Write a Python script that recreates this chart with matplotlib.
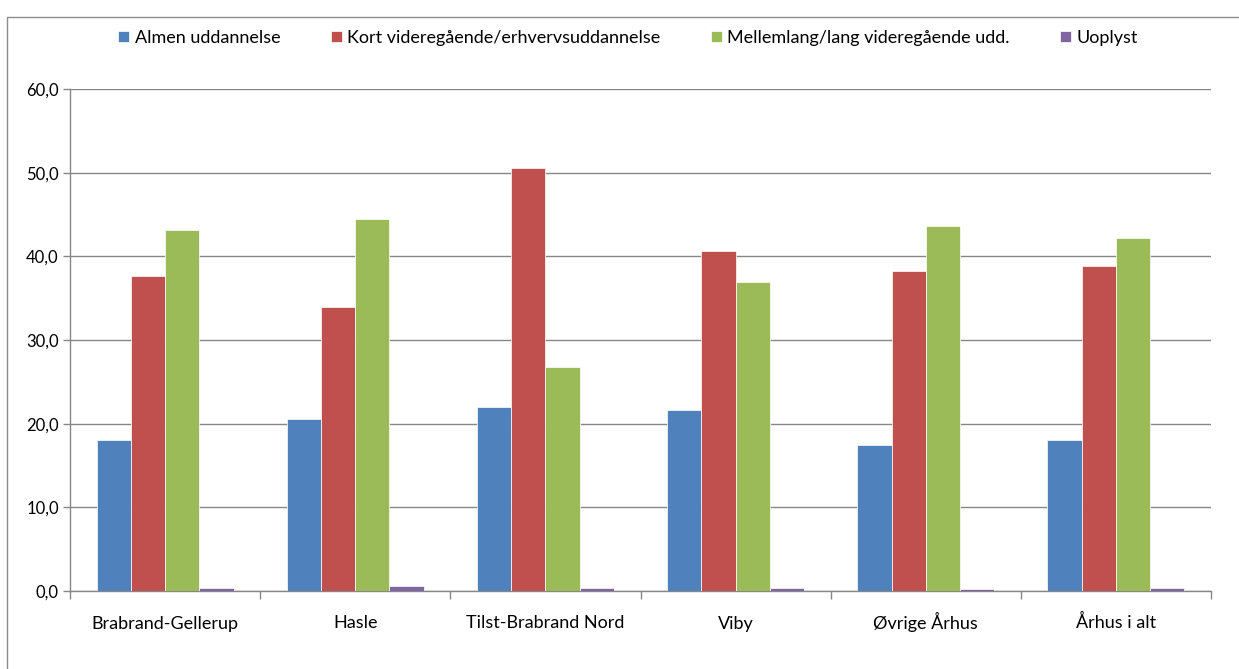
import numpy as np
import matplotlib.pyplot as plt
from matplotlib.patches import Rectangle
from matplotlib.ticker import FuncFormatter
plt.switch_backend('agg')

plt.rcParams['font.family'] = ['Lato', 'DejaVu Sans']

categories = ['Brabrand-Gellerup', 'Hasle', 'Tilst-Brabrand Nord', 'Viby',
              'Øvrige Århus', 'Århus i alt']
series_names = ['Almen uddannelse', 'Kort videregående/erhvervsuddannelse',
                'Mellemlang/lang videregående udd.', 'Uoplyst']
almen = [18.1, 20.6, 22.0, 21.6, 17.4, 18.1]
kort = [37.6, 33.9, 50.5, 40.6, 38.3, 38.8]
mellem = [43.2, 44.5, 26.8, 36.9, 43.6, 42.2]
uoplyst = [0.4, 0.55, 0.35, 0.35, 0.2, 0.35]
colors = ['#4F81BD', '#C0504D', '#9BBB59', '#8064A2']

fig = plt.figure(figsize=(12.39, 6.69), dpi=100)
ax = fig.add_axes([70 / 1239, 1 - 591 / 669, (1211 - 70) / 1239, (591 - 89) / 669])

# ramme om hele diagrammet
fig.patches.append(Rectangle((7 / 1239, -0.01), 1.02, 1 - 17 / 669 + 0.01,
                             transform=fig.transFigure, fill=False,
                             edgecolor='#8c8c8c', linewidth=1))

x = np.arange(len(categories))
w = 0.18
data = [almen, kort, mellem, uoplyst]
for i, (vals, name, c) in enumerate(zip(data, series_names, colors)):
    ax.bar(x + (i - 1.5) * w, vals, width=w, color=c, label=name,
           edgecolor='white', linewidth=0.5, zorder=3)

ax.set_xlim(-0.5, len(categories) - 0.5)
ax.set_ylim(0, 60)
ax.set_yticks(np.arange(0, 61, 10))
ax.yaxis.set_major_formatter(FuncFormatter(lambda v, p: f'{v:.1f}'.replace('.', ',')))
ax.grid(axis='y', color='#878787', linewidth=1, zorder=0)

ax.set_xticks(x)
ax.set_xticklabels(categories, fontsize=13, va='baseline')
ax.set_xticks(np.arange(-0.5, len(categories)), minor=True)
ax.tick_params(axis='x', which='major', length=0, pad=27)
ax.tick_params(axis='x', which='minor', length=6, color='#878787', width=1)
ax.tick_params(axis='y', length=5, color='#878787', width=1, labelsize=12, pad=3)

for s in ['top', 'right']:
    ax.spines[s].set_visible(False)
for s in ['left', 'bottom']:
    ax.spines[s].set_color('#878787')
    ax.spines[s].set_linewidth(1)

fig.legend(loc='center', bbox_to_anchor=(628 / 1239, 1 - 38 / 669), ncol=4,
           frameon=False, fontsize=13, handlelength=0.6, handleheight=0.6,
           handletextpad=0.3, columnspacing=2.8)

fig.savefig('out.png', dpi=100)
